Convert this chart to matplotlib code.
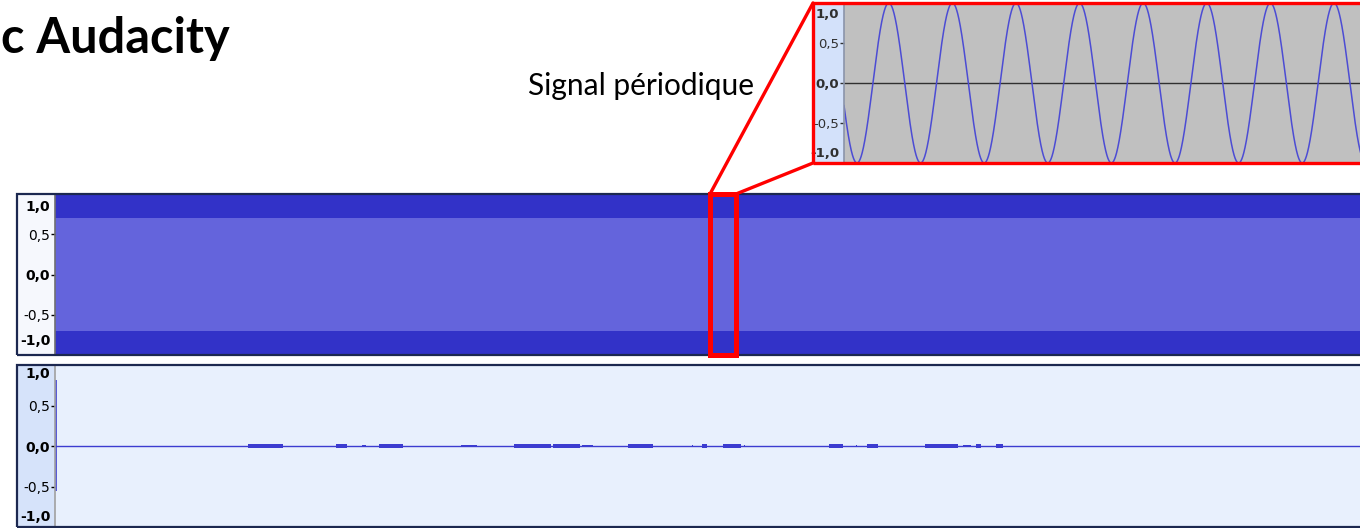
import matplotlib
matplotlib.use("Agg")
import matplotlib.pyplot as plt
import numpy as np
from matplotlib.patches import Rectangle, ConnectionPatch

W, H = 1360, 528

# --- data ---
# top track: envelope of the periodic signal over the whole track
track_len = 1307
peak_level = 1.0
rms_level = 0.707
zoom_start, zoom_end = 655, 681          # part of the track shown in the zoom

# zoomed view of the periodic signal
zoom_len = 519
sine_amp = 1.0
sine_period = 63.6
sine_first_trough = 13.0

# bottom track: silence with a click at the start and short bursts
click_top, click_bottom = 0.82, -0.55
burst_start = [193, 281, 307, 324, 406, 459, 498, 527, 573, 637,
               647, 668, 689, 774, 801, 812, 870, 908, 921, 941]
burst_end = [228, 292, 311, 348, 422, 496, 525, 538, 598, 638,
             652, 686, 690, 788, 802, 823, 903, 916, 926, 948]
burst_amp = [0.03, 0.02, 0.015, 0.03, 0.015, 0.03, 0.03, 0.015, 0.03, 0.015,
             0.02, 0.025, 0.015, 0.02, 0.015, 0.02, 0.03, 0.015, 0.02, 0.02]

tick_values = [-0.5, 0.0, 0.5]
tick_labels = ['-0,5', '0,0', '0,5']

PEAK_COLOR = '#3232c8'
RMS_COLOR = '#6464dc'
WAVE_COLOR = '#3c3cd0'
LABEL_FONT = 'DejaVu Sans'

fig = plt.figure(figsize=(W / 100, H / 100), dpi=100)
fig.patch.set_facecolor('white')


def px_rect(x0, y0, x1, y1):
    return [x0 / W, 1 - y1 / H, (x1 - x0) / W, (y1 - y0) / H]


def make_track(x0, y0, x1, y1, label_w, label_bg, plot_bg, border, border_lw,
               divider, xmax, label_color='black', label_size=10,
               top_off=9.5, bot_off=10):
    frame = fig.add_axes(px_rect(x0, y0, x1, y1))
    frame.set_facecolor(label_bg)
    frame.set_xticks([])
    frame.set_yticks([])
    for s in frame.spines.values():
        s.set_visible(False)

    ax = fig.add_axes(px_rect(x0 + label_w, y0, x1, y1))
    ax.set_facecolor(plot_bg)
    ax.set_xlim(0, xmax)
    ax.set_ylim(-1, 1)
    ax.set_xticks([])
    for side in ['top', 'right', 'bottom']:
        ax.spines[side].set_visible(False)
    ax.spines['left'].set_color(divider)
    ax.spines['left'].set_linewidth(1.2)
    ax.set_yticks(tick_values, tick_labels)
    ax.tick_params(axis='y', length=3, width=1, pad=0.5, color=label_color,
                   labelsize=label_size, labelcolor=label_color)
    for lab in ax.get_yticklabels():
        lab.set_fontfamily(LABEL_FONT)
        if lab.get_text() == '0,0':
            lab.set_fontweight('bold')
    # the +-1,0 labels sit just inside the track
    for val, txt, dy in [(1.0, '1,0', -top_off), (-1.0, '-1,0', bot_off)]:
        ax.annotate(txt, xy=(0, val), xycoords=ax.get_yaxis_transform(),
                    xytext=(-3.5, dy), textcoords='offset points',
                    ha='right', va='center', fontsize=label_size,
                    fontweight='bold', family=LABEL_FONT, color=label_color)

    fig.add_artist(Rectangle((0, 0), 1, 1, transform=frame.transAxes,
                             fill=False, ec=border, lw=border_lw, zorder=5))
    return frame, ax


# ---- top track: the whole periodic signal ----
top_frame, ax_top = make_track(17, 194, 1362, 355, 38, '#f6f8fd', RMS_COLOR,
                               '#1c2850', 1.6, '#707070', track_len,
                               top_off=9.5, bot_off=10)
t = np.array([0, track_len])
ax_top.fill_between(t, -peak_level, peak_level, color=PEAK_COLOR, lw=0)
ax_top.fill_between(t, -rms_level, rms_level, color=RMS_COLOR, lw=0)

hl = Rectangle((zoom_start, -1.0), zoom_end - zoom_start, 2.0,
               transform=ax_top.transData, fill=False, ec='red', lw=3.6,
               zorder=6)
fig.add_artist(hl)

# ---- bottom track: recording ----
bot_frame, ax_bot = make_track(17, 365, 1362, 527, 38, '#d6e3fa', '#e8f0fd',
                               '#1c2850', 1.6, '#a0a0a0', track_len,
                               top_off=6.5, bot_off=7.5)
ax_bot.axhline(0, color=WAVE_COLOR, lw=1)
ax_bot.vlines(0.8, click_bottom, click_top, color=WAVE_COLOR, lw=1.2)
for s, e, a in zip(burst_start, burst_end, burst_amp):
    ax_bot.fill_between([s, max(e, s + 1)], -a, a, color=WAVE_COLOR, lw=0)

# ---- zoomed view ----
zoom_frame, ax_zoom = make_track(813, 3, 1363, 163, 31, '#d3e1fa', '#c0c0c0',
                                 'red', 2.4, '#8a94aa', zoom_len,
                                 label_color='#303030', label_size=9.5,
                                 top_off=8, bot_off=7)
x = np.linspace(0, zoom_len, 3000)
y = -sine_amp * np.cos(2 * np.pi * (x - sine_first_trough) / sine_period)
ax_zoom.axhline(0, color='#303030', lw=1)
ax_zoom.plot(x, y, color='#4c4cd4', lw=1.1)

# connectors from the highlighted part to the zoomed view
for xa, yb in [(zoom_start, 1), (zoom_end, 0)]:
    con = ConnectionPatch(xyA=(xa, 1.0), coordsA=ax_top.transData,
                          xyB=(0, yb), coordsB=zoom_frame.transAxes,
                          color='red', lw=2.4, zorder=7)
    fig.add_artist(con)

# ---- texts ----
fig.text(1 / W, 1 - 53 / H, 'c Audacity', fontsize=35, fontweight='bold',
         family='Lato', ha='left', va='baseline')
fig.text(528 / W, 1 - 95 / H, 'Signal périodique', fontsize=21.5,
         family='Lato', ha='left', va='baseline')

fig.savefig('out.png', dpi=100, facecolor='white')
